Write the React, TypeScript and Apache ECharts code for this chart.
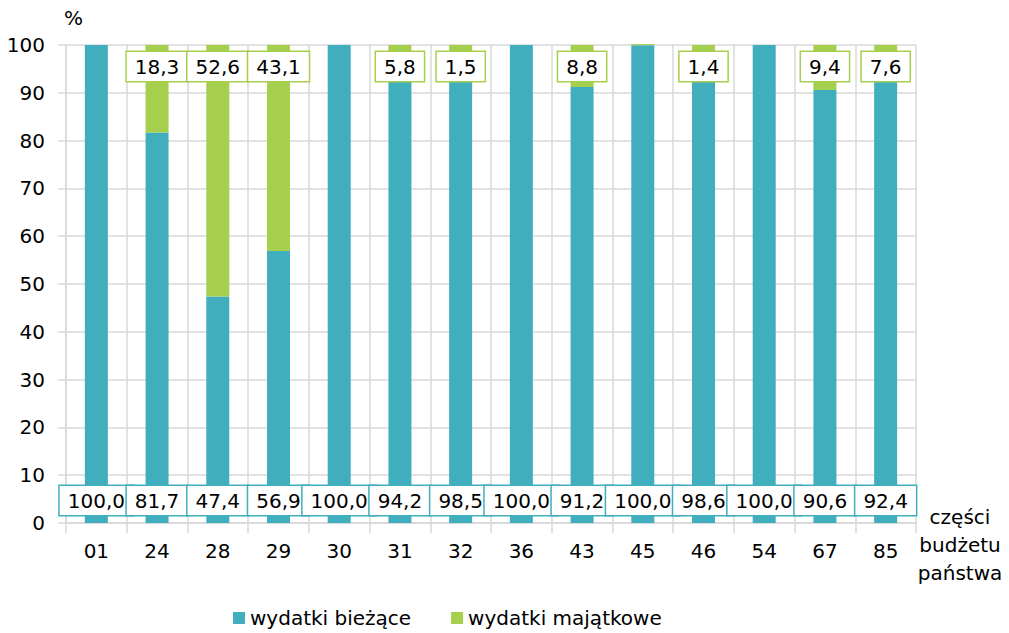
import React, { useEffect, useRef } from "react";
import * as echarts from "echarts";

const categories = ["01", "24", "28", "29", "30", "31", "32", "36", "43", "45", "46", "54", "67", "85"];
const biezace = [100.0, 81.7, 47.4, 56.9, 100.0, 94.2, 98.5, 100.0, 91.2, 99.96, 98.6, 100.0, 90.6, 92.4];
const majatkowe: (number | null)[] = [null, 18.3, 52.6, 43.1, null, 5.8, 1.5, null, 8.8, 0.04, 1.4, null, 9.4, 7.6];
const yTicks = { min: 0, max: 100, interval: 10 };

const TEAL = "#41AEBE";
const GREEN = "#A5CF4C";
const FONT = "DejaVu Sans";

const fmt = (v: number) => v.toFixed(1).replace(".", ",");

export default function App() {
  const ref = useRef<HTMLDivElement>(null);
  useEffect(() => {
    if (!ref.current) return;
    const chart = echarts.init(ref.current, undefined, { renderer: "svg" });
    const greenData = majatkowe.map((v) =>
      v != null && v < 0.5 ? { value: v, label: { show: false } } : v
    );
    chart.setOption({
      animation: false,
      textStyle: { fontFamily: FONT },
      grid: { left: 66, right: 93, top: 45, bottom: 110, containLabel: false },
      legend: {
        left: 228,
        top: 603,
        itemWidth: 12,
        itemHeight: 12,
        itemGap: 40,
        icon: "rect",
        textStyle: { fontSize: 20, color: "#000", fontFamily: FONT },
        data: ["wydatki bieżące", "wydatki majątkowe"],
      },
      xAxis: {
        type: "category",
        data: categories,
        axisLine: { lineStyle: { color: "#d9d9d9", width: 1.5 } },
        axisTick: { show: true, length: 10, lineStyle: { color: "#d9d9d9", width: 1.5 } },
        splitLine: { show: true, lineStyle: { color: "#d9d9d9", width: 1.5 } },
        axisLabel: { fontSize: 20, color: "#000", margin: 18, fontFamily: FONT },
      },
      yAxis: {
        type: "value",
        min: yTicks.min,
        max: yTicks.max,
        interval: yTicks.interval,
        axisLine: { show: true, lineStyle: { color: "#d9d9d9", width: 1.5 } },
        axisTick: { show: true, length: 8, lineStyle: { color: "#d9d9d9", width: 1.5 } },
        splitLine: { show: true, lineStyle: { color: "#d9d9d9", width: 1.5 } },
        axisLabel: { fontSize: 20, color: "#000", margin: 21, fontFamily: FONT },
      },
      series: [
        {
          name: "wydatki bieżące",
          type: "bar",
          stack: "a",
          barWidth: 23,
          data: biezace,
          itemStyle: { color: TEAL },
          label: {
            show: true,
            position: "insideBottom",
            distance: 8,
            formatter: (p: any) => fmt(p.value),
            fontSize: 20,
            color: "#000",
            fontFamily: FONT,
            backgroundColor: "#fff",
            borderColor: TEAL,
            borderWidth: 1.5,
            padding: [5, 8, 4, 8],
          },
        },
        {
          name: "wydatki majątkowe",
          type: "bar",
          stack: "a",
          barWidth: 23,
          barMinHeight: 1,
          clip: false,
          data: greenData,
          itemStyle: { color: GREEN },
          label: {
            show: true,
            position: "insideTop",
            distance: 7,
            formatter: (p: any) => fmt(p.value),
            fontSize: 20,
            color: "#000",
            fontFamily: FONT,
            backgroundColor: "#fff",
            borderColor: GREEN,
            borderWidth: 1.5,
            padding: [5, 8, 4, 8],
          },
        },
      ],
      graphic: [
        {
          type: "text",
          left: 64,
          top: 8,
          style: { text: "%", fontSize: 20, fill: "#000", fontFamily: FONT },
        },
        {
          type: "text",
          x: 960,
          y: 503,
          style: {
            text: "części\nbudżetu\npaństwa",
            fontSize: 20,
            lineHeight: 28,
            fill: "#000",
            fontFamily: FONT,
            align: "center",
          },
        },
      ],
    });
    return () => chart.dispose();
  }, []);
  return <div ref={ref} style={{ width: 1009, height: 633, position: "absolute", left: 0, top: 0 }} />;
}
